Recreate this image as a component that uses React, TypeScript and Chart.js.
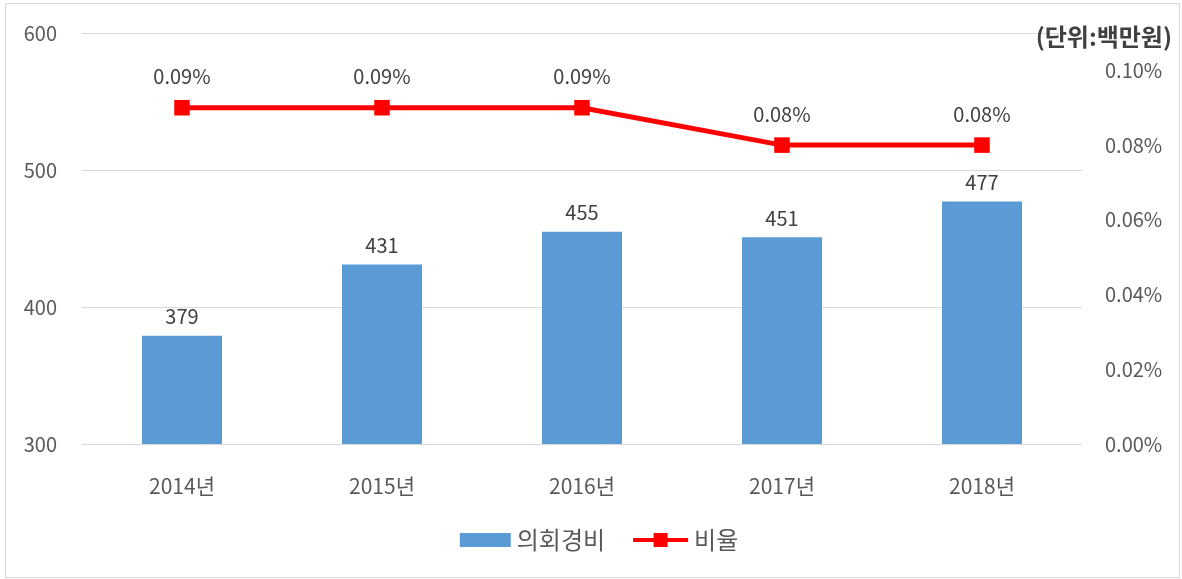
import React, { useEffect, useRef } from "react";
import { Chart, registerables } from "chart.js";

Chart.register(...registerables);

const categories = ["2014년", "2015년", "2016년", "2017년", "2018년"];
const expenseValues = [379, 431, 455, 451, 477];
const ratioValues = [0.09, 0.09, 0.09, 0.08, 0.08];
const leftTicks = [300, 400, 500, 600];
const rightTicks = [0, 0.02, 0.04, 0.06, 0.08, 0.1];
const seriesNames = ["의회경비", "비율"];
const unitLabel = "(단위:백만원)";

const FONT = "'Noto Sans CJK KR', 'Noto Sans', sans-serif";
const FONT_SIZE = 20;
const TEXT = "#595959";
const BAR = "#5B9BD5";
const RED = "#FF0000";

const zeroPad = (scale: any) => {
  scale.paddingTop = 0;
  scale.paddingBottom = 0;
  scale.paddingLeft = 0;
  scale.paddingRight = 0;
};

const decorPlugin = {
  id: "decor",
  afterDatasetsDraw(chart: any) {
    const ctx = chart.ctx;
    ctx.save();
    ctx.font = `${FONT_SIZE}px ${FONT}`;
    ctx.fillStyle = "#404040";
    ctx.textAlign = "center";
    ctx.textBaseline = "middle";
    const barMeta = chart.getDatasetMeta(0);
    barMeta.data.forEach((el: any, i: number) => {
      ctx.fillText(String(expenseValues[i]), el.x, el.y - 19);
    });
    const lineMeta = chart.getDatasetMeta(1);
    lineMeta.data.forEach((el: any, i: number) => {
      ctx.fillText(ratioValues[i].toFixed(2) + "%", el.x, el.y - 31);
    });
    ctx.restore();
  },
  afterDraw(chart: any) {
    const ctx = chart.ctx;
    ctx.save();
    // frame
    ctx.strokeStyle = "#d9d9d9";
    ctx.lineWidth = 1;
    ctx.strokeRect(5.5, 3.5, 1174, 574);
    // unit label
    ctx.font = `bold 24px ${FONT}`;
    ctx.fillStyle = "#404040";
    ctx.textAlign = "right";
    ctx.textBaseline = "middle";
    ctx.fillText(unitLabel, 1172, 37);
    // legend
    ctx.font = `24px ${FONT}`;
    ctx.textAlign = "left";
    const y = 540;
    const boxW = 51;
    const lineW = 55;
    const gap = 6;
    const itemGap = 28;
    const w0 = ctx.measureText(seriesNames[0]).width;
    const w1 = ctx.measureText(seriesNames[1]).width;
    const total = boxW + gap + w0 + itemGap + lineW + gap + w1;
    let x = 599 - total / 2;
    ctx.fillStyle = BAR;
    ctx.fillRect(x, y - 7, boxW, 14);
    x += boxW + gap;
    ctx.fillStyle = TEXT;
    ctx.fillText(seriesNames[0], x, y);
    x += w0 + itemGap;
    ctx.strokeStyle = RED;
    ctx.lineWidth = 4;
    ctx.beginPath();
    ctx.moveTo(x, y);
    ctx.lineTo(x + lineW, y);
    ctx.stroke();
    ctx.fillStyle = RED;
    ctx.fillRect(x + lineW / 2 - 7, y - 7, 14, 14);
    x += lineW + gap;
    ctx.fillStyle = TEXT;
    ctx.fillText(seriesNames[1], x, y);
    ctx.restore();
  },
};

export default function App() {
  const ref = useRef<HTMLCanvasElement | null>(null);
  useEffect(() => {
    if (!ref.current) return;
    const chart = new Chart(ref.current, {
      type: "bar",
      data: {
        labels: categories,
        datasets: [
          {
            type: "bar",
            label: seriesNames[0],
            data: expenseValues,
            backgroundColor: BAR,
            borderWidth: 0,
            yAxisID: "y",
            categoryPercentage: 0.8,
            barPercentage: 0.5,
            order: 1,
          },
          {
            type: "line",
            label: seriesNames[1],
            data: ratioValues,
            borderColor: RED,
            backgroundColor: RED,
            borderWidth: 5,
            pointStyle: "rect",
            pointRadius: 11,
            pointBackgroundColor: RED,
            pointBorderColor: RED,
            pointBorderWidth: 0,
            yAxisID: "y1",
            order: 0,
          } as any,
        ],
      },
      options: {
        responsive: false,
        animation: false,
        devicePixelRatio: 1,
        layout: { padding: { top: 33, left: 0, right: 0, bottom: 0 } },
        plugins: {
          legend: { display: false },
          tooltip: { enabled: false },
        },
        scales: {
          x: {
            grid: { display: false, drawTicks: false },
            border: { display: false },
            ticks: {
              color: TEXT,
              font: { family: FONT, size: 21 },
              padding: 29,
            },
            afterFit(scale: any) {
              scale.height = 135;
              zeroPad(scale);
            },
          },
          y: {
            position: "left",
            min: 300,
            max: 600,
            grid: { color: "#d9d9d9", lineWidth: 1, drawTicks: false },
            border: { display: false },
            ticks: {
              color: TEXT,
              font: { family: FONT, size: FONT_SIZE },
              padding: 25,
            },
            afterBuildTicks(scale: any) {
              scale.ticks = leftTicks.map((v) => ({ value: v }));
            },
            afterFit(scale: any) {
              scale.width = 82;
              zeroPad(scale);
            },
          },
          y1: {
            position: "right",
            min: 0,
            max: 0.11,
            grid: { display: false, drawTicks: false },
            border: { display: false },
            ticks: {
              color: TEXT,
              font: { family: FONT, size: FONT_SIZE },
              padding: 23,
              callback: (v: any) => Number(v).toFixed(2) + "%",
            },
            afterBuildTicks(scale: any) {
              scale.ticks = rightTicks.map((v) => ({ value: v }));
            },
            afterFit(scale: any) {
              scale.width = 100;
              zeroPad(scale);
            },
          },
        },
      } as any,
      plugins: [decorPlugin],
    });
    return () => chart.destroy();
  }, []);
  return (
    <div style={{ position: "absolute", left: 0, top: 0, width: 1182, height: 579, background: "#fff" }}>
      <canvas ref={ref} width={1182} height={579} style={{ display: "block" }} />
    </div>
  );
}
